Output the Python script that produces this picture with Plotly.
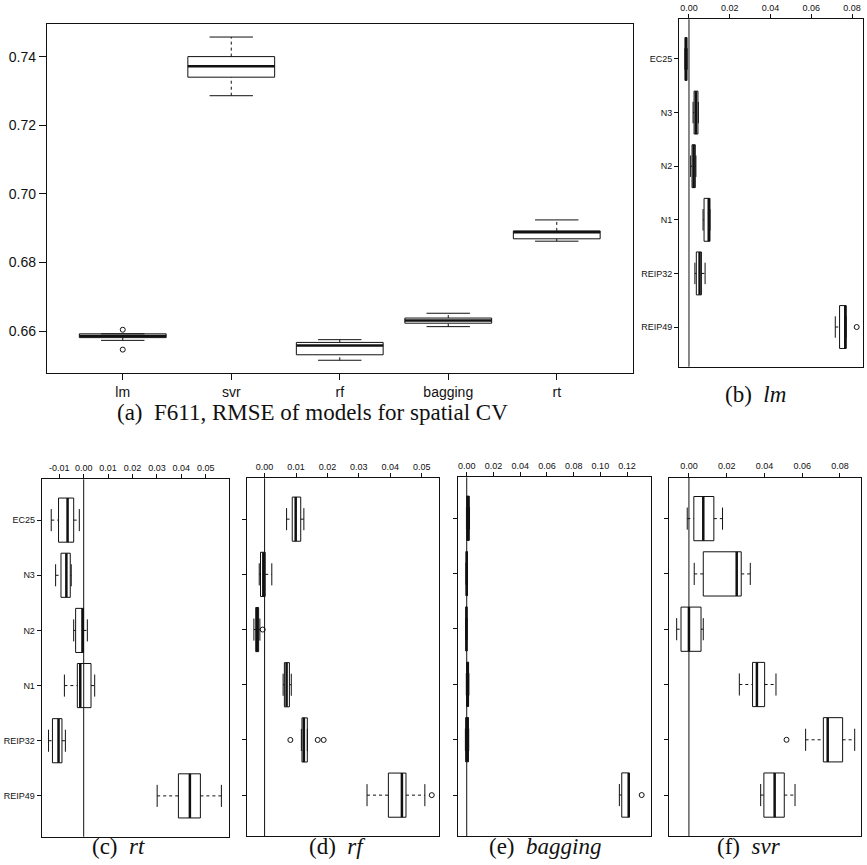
import plotly.graph_objects as go

W, H = 867, 865

# ---------------- data ----------------
models = ["lm", "svr", "rf", "bagging", "rt"]
a_q1 = [0.6581, 0.7340, 0.6531, 0.6623, 0.6869]
a_med = [0.6586, 0.7372, 0.6558, 0.6631, 0.6888]
a_q3 = [0.6592, 0.7400, 0.6567, 0.6638, 0.6892]
a_lo = [0.6573, 0.7286, 0.6515, 0.6613, 0.6862]
a_hi = [0.6592, 0.7457, 0.6575, 0.6652, 0.6924]
a_out_cat = ["lm", "lm"]
a_out_val = [0.6604, 0.6546]
a_ticks = [0.66, 0.68, 0.70, 0.72, 0.74]

variables = ["EC25", "N3", "N2", "N1", "REIP32", "REIP49"]

# (b) lm
b_q1 = [-0.0019, 0.0025, 0.0015, 0.0074, 0.0036, 0.0739]
b_med = [-0.0015, 0.0034, 0.0023, 0.0097, 0.0052, 0.0767]
b_q3 = [-0.0010, 0.0044, 0.0031, 0.0103, 0.0061, 0.0771]
b_lo = [-0.0020, 0.0020, 0.0008, 0.0069, 0.0029, 0.0718]
b_hi = [-0.0009, 0.0046, 0.0034, 0.0103, 0.0079, 0.0771]
b_out_var = ["REIP49"]
b_out_val = [0.0823]
b_ticks = [0.00, 0.02, 0.04, 0.06, 0.08]

# (c) rt
c_q1 = [-0.0103, -0.0093, -0.0033, -0.0026, -0.0128, 0.0388]
c_med = [-0.0066, -0.0071, -0.0005, -0.0014, -0.0103, 0.0435]
c_q3 = [-0.0041, -0.0055, -0.0001, 0.0030, -0.0089, 0.0478]
c_lo = [-0.0133, -0.0115, -0.0041, -0.0079, -0.0144, 0.0301]
c_hi = [-0.0018, -0.0051, 0.0015, 0.0045, -0.0075, 0.0564]
c_out_var = []
c_out_val = []
c_ticks = [-0.01, 0.00, 0.01, 0.02, 0.03, 0.04, 0.05]

# (d) rf
d_q1 = [0.0088, -0.0013, -0.0028, 0.0063, 0.0119, 0.0394]
d_med = [0.0099, -0.0004, -0.0024, 0.0070, 0.0125, 0.0437]
d_q3 = [0.0115, 0.0002, -0.0019, 0.0079, 0.0136, 0.0450]
d_lo = [0.0070, -0.0017, -0.0034, 0.0059, 0.0117, 0.0326]
d_hi = [0.0125, 0.0023, -0.0015, 0.0085, 0.0136, 0.0510]
d_out_var = ["N2", "REIP32", "REIP32", "REIP32", "REIP49"]
d_out_val = [-0.0006, 0.0082, 0.0169, 0.0188, 0.0532]
d_ticks = [0.00, 0.01, 0.02, 0.03, 0.04, 0.05]

# (e) bagging
e_q1 = [0.0000, -0.0004, -0.0006, -0.0001, -0.0008, 0.1160]
e_med = [0.0010, 0.0000, -0.0002, 0.0007, 0.0003, 0.1212]
e_q3 = [0.0019, 0.0004, 0.0001, 0.0014, 0.0013, 0.1217]
e_lo = [-0.0002, -0.0006, -0.0008, -0.0003, -0.0010, 0.1142]
e_hi = [0.0021, 0.0006, 0.0003, 0.0016, 0.0015, 0.1217]
e_out_var = ["REIP49"]
e_out_val = [0.1309]
e_ticks = [0.00, 0.02, 0.04, 0.06, 0.08, 0.10, 0.12]

# (f) svr
f_q1 = [0.0026, 0.0076, -0.0042, 0.0337, 0.0712, 0.0397]
f_med = [0.0076, 0.0253, 0.0000, 0.0360, 0.0735, 0.0454]
f_q3 = [0.0132, 0.0277, 0.0064, 0.0401, 0.0814, 0.0505]
f_lo = [-0.0009, 0.0028, -0.0065, 0.0267, 0.0618, 0.0380]
f_hi = [0.0178, 0.0325, 0.0076, 0.0461, 0.0878, 0.0562]
f_out_var = ["REIP32"]
f_out_val = [0.0517]
f_ticks = [0.00, 0.02, 0.04, 0.06, 0.08]

# ---------------- helpers ----------------
LINE = "#111111"
SANS = "Liberation Sans, Arial, Helvetica, sans-serif"
SERIF = "Liberation Serif, Times New Roman, serif"


def box_traces(q1, med, q3, lo, hi, out_idx, out_val, horizontal, xa, ya):
    bc, bv, mc, mv, wc, wv, sc, sv = [], [], [], [], [], [], [], []
    hw, sw = 0.4, 0.2
    for i, (a, m, b, l, h) in enumerate(zip(q1, med, q3, lo, hi)):
        p = i + 1
        bc += [p - hw, p + hw, p + hw, p - hw, p - hw, None]
        bv += [a, a, b, b, a, None]
        mc += [p - hw, p + hw, None]
        mv += [m, m, None]
        wc += [p, p, None, p, p, None]
        wv += [l, a, None, b, h, None]
        sc += [p - sw, p + sw, None, p - sw, p + sw, None]
        sv += [l, l, None, h, h, None]

    def xy(c, v):
        return (v, c) if horizontal else (c, v)

    traces = []
    for c, v, width, dash in [(wc, wv, 1, "3px,3px"), (sc, sv, 1, "solid"),
                              (bc, bv, 1, "solid"), (mc, mv, 2.5, "solid")]:
        x, y = xy(c, v)
        traces.append(go.Scatter(x=x, y=y, mode="lines", xaxis=xa, yaxis=ya,
                                 line=dict(color=LINE, width=width, dash=dash),
                                 hoverinfo="skip", showlegend=False))
    if out_val:
        x, y = xy(out_idx, out_val)
        traces.append(go.Scatter(x=x, y=y, mode="markers", xaxis=xa, yaxis=ya,
                                 marker=dict(symbol="circle-open", size=5,
                                             color=LINE, line=dict(width=1)),
                                 hoverinfo="skip", showlegend=False))
    return traces


def dom(x0, x1, y0, y1):
    return [x0 / W, x1 / W], [1 - y1 / H, 1 - y0 / H]


fig = go.Figure()

# panel (a)
a_out_idx = [models.index(m) + 1 for m in a_out_cat]
for t in box_traces(a_q1, a_med, a_q3, a_lo, a_hi, a_out_idx, a_out_val,
                    False, "x", "y"):
    fig.add_trace(t)

panels = [
    ("2", (b_q1, b_med, b_q3, b_lo, b_hi, b_out_var, b_out_val), b_ticks,
     [-0.0049, 0.0854], (679, 863, 19.3, 366.7), True),
    ("3", (c_q1, c_med, c_q3, c_lo, c_hi, c_out_var, c_out_val), c_ticks,
     [-0.0172, 0.0594], (41.7, 228.7, 479.3, 836.7), True),
    ("4", (d_q1, d_med, d_q3, d_lo, d_hi, d_out_var, d_out_val), d_ticks,
     [-0.0055, 0.0556], (247.3, 439.3, 478.3, 836), False),
    ("5", (e_q1, e_med, e_q3, e_lo, e_hi, e_out_var, e_out_val), e_ticks,
     [-0.0063, 0.1375], (458.3, 650.5, 477.3, 836), False),
    ("6", (f_q1, f_med, f_q3, f_lo, f_hi, f_out_var, f_out_val), f_ticks,
     [-0.0104, 0.0913], (669.3, 861.3, 477.7, 836), False),
]

layout = dict(
    width=W, height=H, margin=dict(l=0, r=0, t=0, b=0),
    plot_bgcolor="white", paper_bgcolor="white", showlegend=False,
)

xd, yd = dom(46.8, 632.7, 24, 373.3)
axis_common = dict(showline=True, mirror=True, linecolor=LINE, linewidth=1,
                   showgrid=False, zeroline=False, ticks="outside",
                   tickcolor=LINE, tickwidth=1)
layout["xaxis"] = dict(axis_common, domain=xd, range=[0.3, 5.7],
                       tickvals=list(range(1, len(models) + 1)),
                       ticktext=models, ticklen=6,
                       tickfont=dict(family=SANS, size=14, color="#111"),
                       anchor="y")
layout["yaxis"] = dict(axis_common, domain=yd, range=[0.6477, 0.7495],
                       tickvals=a_ticks,
                       ticktext=[f"{v:.2f}" for v in a_ticks], ticklen=7,
                       tickfont=dict(family=SANS, size=14, color="#111"),
                       anchor="x")

shapes = []
for n, data, ticks, xr, box, labels in panels:
    q1, med, q3, lo, hi, ov, oval = data
    oidx = [variables.index(v) + 1 for v in ov]
    for t in box_traces(q1, med, q3, lo, hi, oidx, oval, True, "x" + n, "y" + n):
        fig.add_trace(t)
    xd, yd = dom(*box)
    layout["xaxis" + n] = dict(axis_common, domain=xd, range=xr, side="top",
                               tickvals=ticks,
                               ticktext=[f"{v:.2f}" for v in ticks], ticklen=4,
                               tickfont=dict(family=SANS, size=9, color="#111"),
                               anchor="y" + n)
    layout["yaxis" + n] = dict(axis_common, domain=yd, range=[6.74, 0.26],
                               tickvals=list(range(1, len(variables) + 1)),
                               ticktext=variables, ticklen=4,
                               showticklabels=labels,
                               tickfont=dict(family=SANS, size=9, color="#111"),
                               anchor="x" + n)
    shapes.append(dict(type="line", xref="x" + n, yref="y" + n + " domain",
                       x0=0, x1=0, y0=0, y1=1,
                       line=dict(color=LINE, width=1)))

layout["shapes"] = shapes

captions = [
    ("(a)&nbsp; F611, RMSE of models for spatial CV", 312, 412),
    ("(b)&nbsp; <i>lm</i>", 755, 394),
    ("(c)&nbsp; <i>rt</i>", 118, 846),
    ("(d)&nbsp; <i>rf</i>", 337, 846),
    ("(e)&nbsp; <i>bagging</i>", 545, 846),
    ("(f)&nbsp; <i>svr</i>", 749, 846),
]
layout["annotations"] = [
    dict(text=t, x=x / W, y=1 - y / H, xref="paper", yref="paper",
         showarrow=False, xanchor="center", yanchor="middle",
         font=dict(family=SERIF, size=23, color="#111"))
    for t, x, y in captions
]

fig.update_layout(**layout)
fig.write_html(
    "out.html",
    config={"displayModeBar": False},
    post_script="document.body.style.margin='0';"
                "document.body.style.padding='0';"
                "document.body.style.overflow='hidden';",
)
